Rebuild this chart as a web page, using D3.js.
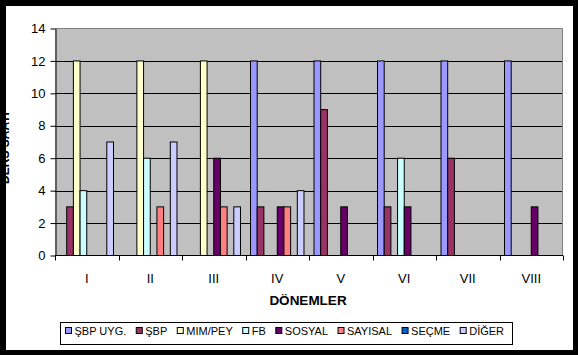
<!DOCTYPE html>
<html><head><meta charset="utf-8">
<script src="https://cdn.jsdelivr.net/npm/d3@7"></script>
<style>body{margin:0;background:#000}svg{display:block}text{font-family:"Liberation Sans",Arial,sans-serif}</style>
</head><body>
<svg id="c" width="578" height="355"></svg>
<script>
const categories = ["I","II","III","IV","V","VI","VII","VIII"];
const seriesNames = ["ŞBP UYG.","ŞBP","MIM/PEY","FB","SOSYAL","SAYISAL","SEÇME","DİĞER"];
const seriesColors = ["#9999FF","#993366","#FFFFCC","#CCFFFF","#660066","#FF8080","#0066CC","#CCCCFF"];
const sbpUyg  = [0,0,0,12,12,12,12,12];
const sbp     = [3,0,0,3,9,3,6,0];
const mimPey  = [12,12,12,0,0,0,0,0];
const fb      = [4,6,0,0,0,6,0,0];
const sosyal  = [0,0,6,3,3,3,0,3];
const sayisal = [0,3,3,3,0,0,0,0];
const secme   = [0,0,0,0,0,0,0,0];
const diger   = [7,7,3,4,0,0,0,0];
const seriesValues = [sbpUyg,sbp,mimPey,fb,sosyal,sayisal,secme,diger];
const yTicks = [0,2,4,6,8,10,12,14];
const xTitle = "DÖNEMLER";
const yTitle = "DERS SAATİ";

const svg = d3.select("#c");
svg.append("rect").attr("x",0).attr("y",0).attr("width",578).attr("height",355).attr("fill","#000");
svg.append("rect").attr("x",6).attr("y",6).attr("width",567).attr("height",344).attr("fill","#fff");

const L=55,R=563,T=28.5,B=255.5;
const x = d3.scaleBand().domain(categories).range([L,R]).padding(0);
const xs = d3.scaleBand().domain(seriesNames).range([0,x.bandwidth()]).paddingInner(0).paddingOuter(0.75);
const y = d3.scaleLinear().domain([0,14]).range([B,T]);

// plot area
svg.append("rect").attr("x",L).attr("y",T).attr("width",R-L).attr("height",B-T).attr("fill","#C0C0C0");
// gridlines
svg.append("g").selectAll("line").data(yTicks.filter(d=>d>0&&d<14)).join("line")
  .attr("x1",L).attr("x2",R).attr("y1",d=>Math.round(y(d))+0.5).attr("y2",d=>Math.round(y(d))+0.5)
  .attr("stroke","#000").attr("stroke-width",1);
// border top/right
svg.append("path").attr("d",`M${L},${T}H${R-0.5}V${B}`).attr("fill","none").attr("stroke","#808080");

// bars
const data=[];
seriesValues.forEach((vals,si)=>vals.forEach((v,ci)=>{ if(v>0) data.push({c:categories[ci],s:seriesNames[si],v,col:seriesColors[si]}); }));
svg.append("g").selectAll("rect").data(data).join("rect")
  .attr("x",d=>x(d.c)+xs(d.s))
  .attr("y",d=>y(d.v))
  .attr("width",xs.bandwidth())
  .attr("height",d=>y(0)-y(d.v))
  .attr("fill",d=>d.col).attr("stroke","#000").attr("stroke-width",1);

// y axis
const ya = svg.append("g").attr("transform",`translate(${L+0.5},0)`)
  .call(d3.axisLeft(y).tickValues(yTicks).tickSize(5).tickPadding(5).tickSizeOuter(0));
ya.select(".domain").attr("stroke","#000");
ya.selectAll("line").attr("stroke","#000");
ya.selectAll("text").attr("font-size",13).attr("fill","#000").attr("font-family","Liberation Sans, Arial");

// x axis
const xa = svg.append("g").attr("transform",`translate(0,${B})`);
xa.append("line").attr("x1",L).attr("x2",R).attr("y1",0).attr("y2",0).attr("stroke","#000");
const bounds = categories.map(c=>x(c)).concat([R]);
xa.selectAll("line.t").data(bounds).join("line").attr("class","t")
  .attr("x1",d=>Math.round(d)+0.5).attr("x2",d=>Math.round(d)+0.5).attr("y1",0).attr("y2",5).attr("stroke","#000");
xa.selectAll("text").data(categories).join("text")
  .attr("x",d=>x(d)+x.bandwidth()/2).attr("y",27).attr("text-anchor","middle")
  .attr("font-size",13).attr("fill","#000").text(d=>d);

svg.append("text").attr("x",(L+R)/2-1).attr("y",305).attr("text-anchor","middle")
  .attr("font-size",13.5).attr("font-weight","bold").text(xTitle);
svg.append("text").attr("transform","translate(8.5,148) rotate(-90)").attr("text-anchor","middle")
  .attr("font-size",12).attr("font-weight","bold").text(yTitle);
// re-cover left frame
svg.append("rect").attr("x",0).attr("y",0).attr("width",6).attr("height",355).attr("fill","#000");

// legend
const lg = svg.append("g");
lg.append("rect").attr("x",60.5).attr("y",322.5).attr("width",452).attr("height",22).attr("fill","#fff").attr("stroke","#000");
let cx = 65.5;
seriesNames.forEach((n,i)=>{
  lg.append("rect").attr("x",cx).attr("y",327.5).attr("width",6).attr("height",6).attr("fill",seriesColors[i]).attr("stroke","#000");
  const t = lg.append("text").attr("x",cx+9).attr("y",334.5).attr("font-size",11).attr("fill","#000").text(n);
  cx += 9 + t.node().getComputedTextLength() + 10;
});
</script>
</body></html>
